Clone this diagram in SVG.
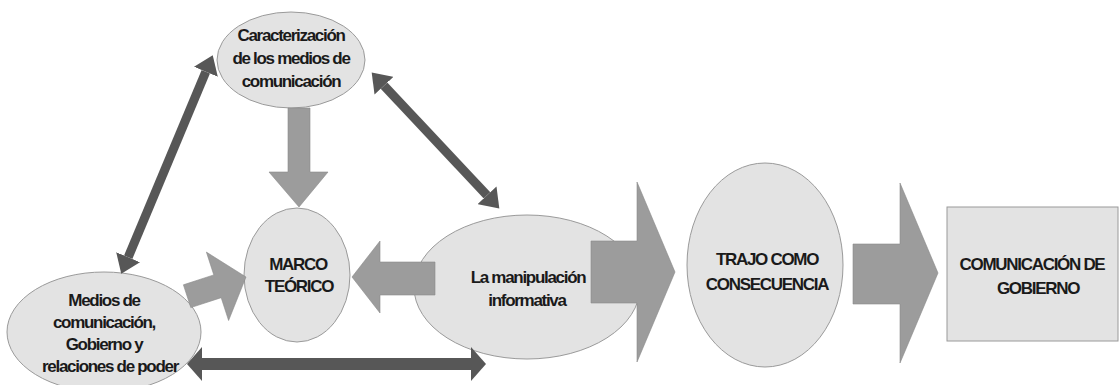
<svg xmlns="http://www.w3.org/2000/svg" width="1119" height="385" viewBox="0 0 1119 385">
<style>
.node{fill:#e3e3e3;stroke:#9a9a9a;stroke-width:1}
.blk{fill:#9c9c9c;stroke:#8a8a8a;stroke-width:0.6}
.dbl{fill:none;stroke:#575757}
.t{font-family:"Liberation Sans",Arial,sans-serif;font-weight:bold;font-size:17px;letter-spacing:-1.3px;fill:#1a1a1a;text-anchor:middle}
</style>
<defs>
<marker id="hd" markerUnits="userSpaceOnUse" markerWidth="20" markerHeight="26" refX="0" refY="13" orient="auto-start-reverse" viewBox="0 0 20 26">
<path d="M0,0 L18,13 L0,26 z" fill="#575757"/>
</marker>
<marker id="hh" markerUnits="userSpaceOnUse" markerWidth="16" markerHeight="34" refX="0" refY="17" orient="auto-start-reverse" viewBox="0 0 16 34">
<path d="M0,0 L15,17 L0,34 z" fill="#575757"/>
</marker>
</defs>
<rect width="1119" height="385" fill="#ffffff"/>

<g id="caracterizacion">
<ellipse class="node" cx="291" cy="60" rx="74" ry="48"/>
<text class="t" x="291" y="41">Caracterización</text>
<text class="t" x="291" y="64">de los medios de</text>
<text class="t" x="291" y="87">comunicación</text>
</g>

<g id="marco">
<ellipse class="node" cx="297" cy="275" rx="53" ry="67"/>
<text class="t" x="298" y="270">MARCO</text>
<text class="t" x="299" y="292">TEÓRICO</text>
</g>

<g id="medios">
<ellipse class="node" cx="104" cy="332" rx="97" ry="60"/>
<text class="t" x="104" y="306">Medios de</text>
<text class="t" x="104" y="328">comunicación,</text>
<text class="t" x="104" y="350">Gobierno y</text>
<text class="t" x="110" y="372">relaciones de poder</text>
</g>

<g id="manipulacion">
<ellipse class="node" cx="527" cy="287" rx="113" ry="72"/>
<text class="t" x="528" y="283">La manipulación</text>
<text class="t" x="527" y="306">informativa</text>
</g>

<g id="trajo">
<ellipse class="node" cx="765" cy="265" rx="78" ry="102"/>
<text class="t" x="767" y="265">TRAJO COMO</text>
<text class="t" x="767" y="290">CONSECUENCIA</text>
</g>

<g id="comunicacion">
<rect class="node" x="947" y="207" width="171" height="134"/>
<text class="t" x="1032" y="270">COMUNICACIÓN DE</text>
<text class="t" x="1038" y="294">GOBIERNO</text>
</g>

<g id="connectors">
<polygon class="blk" points="288,108 310,108 310,172 328,172 299,207 269,172 288,172"/>
<polygon class="blk" points="246,277 228.6,320.5 221.2,297.7 190.8,307.6 183.4,284.8 213.8,274.9 206.4,252.1"/>
<polygon class="blk" points="435,262 435,295 380,295 380,313 352,277 380,241 380,262"/>
<polygon class="blk" points="591,241 637,241 637,182 675,272 637,362 637,303 591,303"/>
<polygon class="blk" points="853,244 900,244 900,183 938,273 900,363 900,304 853,304"/>
<path class="dbl" d="M205.8,71.8 L128.2,257.2" stroke-width="9" marker-start="url(#hd)" marker-end="url(#hd)"/>
<path class="dbl" d="M384,85.7 L487,195.3" stroke-width="9" marker-start="url(#hd)" marker-end="url(#hd)"/>
<path class="dbl" d="M202,364 L471,364" stroke-width="12" marker-start="url(#hh)" marker-end="url(#hh)"/>
</g>
</svg>
